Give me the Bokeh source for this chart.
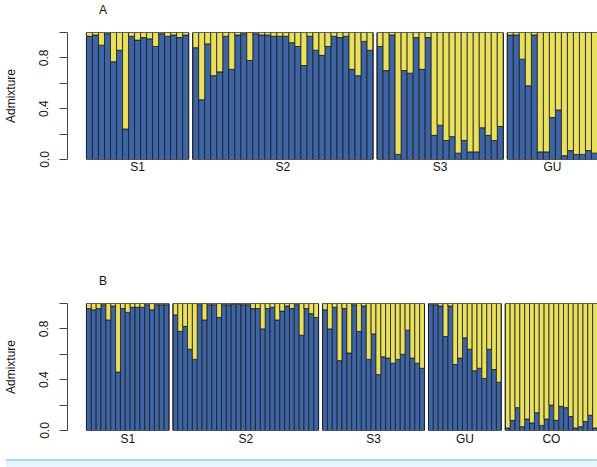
from bokeh.plotting import figure
from bokeh.models import Range1d, FixedTicker, ColumnDataSource, Div
from bokeh.layouts import column
from bokeh.embed import file_html
from bokeh.resources import INLINE

# ---- data: proportion of ancestry cluster 1 (blue); cluster 2 (yellow) = 1 - blue
groups_a = ["S1", "S2", "S3", "GU"]
a_s1 = [0.97, 0.98, 0.90, 0.99, 0.77, 0.86, 0.24, 0.97, 0.94, 0.96, 0.95, 0.89, 0.99, 0.97, 0.98, 0.96, 0.98]
a_s2 = [0.88, 0.47, 0.91, 0.66, 0.69, 0.97, 0.71, 0.98, 0.99, 0.78, 0.99, 0.98, 0.98, 0.97, 0.97,
        0.97, 0.92, 0.89, 0.74, 0.97, 0.86, 0.82, 0.89, 0.97, 0.96, 0.97, 0.71, 0.66, 0.93, 0.86]
a_s3 = [0.89, 0.70, 0.98, 0.04, 0.70, 0.68, 0.96, 0.71, 0.96, 0.19, 0.27, 0.15, 0.18, 0.05, 0.15,
        0.06, 0.06, 0.25, 0.19, 0.15, 0.26]
a_gu = [0.98, 0.98, 0.79, 0.58, 0.98, 0.06, 0.06, 0.33, 0.39, 0.03, 0.07, 0.04, 0.04, 0.07, 0.05]

groups_b = ["S1", "S2", "S3", "GU", "CO"]
b_s1 = [0.96, 0.95, 0.96, 0.99, 0.87, 0.98, 0.46, 0.96, 0.93, 0.97, 0.97, 0.97, 0.99, 0.95, 0.99, 0.99, 0.99]
b_s2 = [0.91, 0.78, 0.82, 0.64, 0.56, 0.99, 0.87, 0.99, 0.99, 0.89, 0.99, 0.99, 0.995, 0.995, 0.99,
        0.99, 0.96, 0.96, 0.80, 0.96, 0.97, 0.87, 0.94, 0.98, 0.96, 0.99, 0.75, 0.96, 0.92, 0.89]
b_s3 = [0.95, 0.80, 0.97, 0.55, 0.96, 0.61, 0.99, 0.78, 0.98, 0.56, 0.76, 0.44, 0.58, 0.57, 0.53,
        0.56, 0.60, 0.79, 0.57, 0.53, 0.49]
b_gu = [0.99, 0.99, 0.98, 0.74, 0.98, 0.52, 0.57, 0.73, 0.64, 0.47, 0.49, 0.41, 0.64, 0.48, 0.38]
b_co = [0.02, 0.08, 0.18, 0.03, 0.09, 0.06, 0.14, 0.04, 0.09, 0.20, 0.08, 0.19, 0.18, 0.11, 0.02,
        0.03, 0.07, 0.12, 0.02]

y_ticks = [0.0, 0.2, 0.4, 0.6, 0.8, 1.0]
y_labels = ["0.0", "", "0.4", "", "0.8", ""]

BLUE = "#3d64a3"
YELLOW = "#e9e15c"
FONT = "Liberation Sans"


def make_panel(names, series, height, top, bottom, xlab_standoff):
    plot_w = 512.0          # pixel span of bars
    gap_px = 4.0
    axis_off_px = 19.0
    n = sum(len(s) for s in series)
    bw = (plot_w - gap_px * (len(series) - 1)) / n
    gap = gap_px / bw
    xs, blue, yellow, centers, lefts, rights = [], [], [], [], [], []
    pos = 0.0
    for s in series:
        lefts.append(pos)
        for v in s:
            xs.append(pos + 0.5)
            blue.append(v)
            yellow.append(1 - v)
            pos += 1
        rights.append(pos)
        centers.append((lefts[-1] + rights[-1]) / 2)
        pos += gap
    end = rights[-1]
    p = figure(width=597, height=height,
               x_range=Range1d(-axis_off_px / bw, end), y_range=Range1d(0, 1),
               output_backend="svg", toolbar_location=None,
               min_border_left=66, min_border_right=0,
               min_border_top=top, min_border_bottom=bottom)
    p.outline_line_color = None
    p.xgrid.visible = False
    p.ygrid.visible = False
    p.background_fill_color = "white"
    src = ColumnDataSource(dict(x=xs, blue=blue, yellow=yellow))
    p.vbar_stack(["blue", "yellow"], x="x", width=1.0, source=src,
                 fill_color=[BLUE, YELLOW], line_color="#1c1c24", line_width=0.8)
    p.quad(left=lefts, right=rights, bottom=0, top=1, fill_color=None,
           line_color="#222222", line_width=1)

    ya = p.yaxis[0]
    ya.ticker = FixedTicker(ticks=y_ticks)
    ya.major_label_overrides = {t: l for t, l in zip(y_ticks, y_labels)}
    ya.minor_tick_line_color = None
    ya.major_tick_out = 8
    ya.major_tick_in = 0
    ya.major_label_orientation = "vertical"
    ya.major_label_standoff = 11
    ya.major_label_text_font = FONT
    ya.major_label_text_font_size = "12px"
    ya.major_label_text_color = "#111111"
    ya.axis_line_color = "#444444"
    ya.major_tick_line_color = "#444444"
    ya.axis_label = "Admixture"
    ya.axis_label_text_font = FONT
    ya.axis_label_text_font_size = "12px"
    ya.axis_label_text_font_style = "normal"
    ya.axis_label_text_color = "#111111"
    ya.axis_label_standoff = 19

    xa = p.xaxis[0]
    xa.ticker = FixedTicker(ticks=centers)
    xa.major_label_overrides = {c: nm for c, nm in zip(centers, names)}
    xa.axis_line_color = None
    xa.major_tick_line_color = None
    xa.minor_tick_line_color = None
    xa.major_tick_out = 0
    xa.major_label_standoff = xlab_standoff
    xa.major_label_text_font = FONT
    xa.major_label_text_font_size = "12px"
    xa.major_label_text_color = "#111111"
    return p


def panel_title(text, height):
    return Div(text=text, width=597, height=height, margin=0,
               styles={"font-family": FONT, "font-size": "12px", "color": "#111111",
                       "padding-left": "99px", "line-height": f"{height}px",
                       "box-sizing": "border-box"})


tA = panel_title("A", 20)
pA = make_panel(groups_a, [a_s1, a_s2, a_s3, a_gu], 250, 12, 111, 0)
tB = panel_title("B", 22)
pB = make_panel(groups_b, [b_s1, b_s2, b_s3, b_gu, b_co], 167, 11, 29, 1)

strip = Div(text="", width=591, height=8, margin=(0, 0, 0, 6),
            styles={"background-color": "#e8f6fd", "border-top": "2px solid #a6daf2",
                    "box-sizing": "border-box"})

layout = column(tA, pA, tB, pB, strip, spacing=0)
open("out.html", "w").write(file_html(layout, INLINE))
